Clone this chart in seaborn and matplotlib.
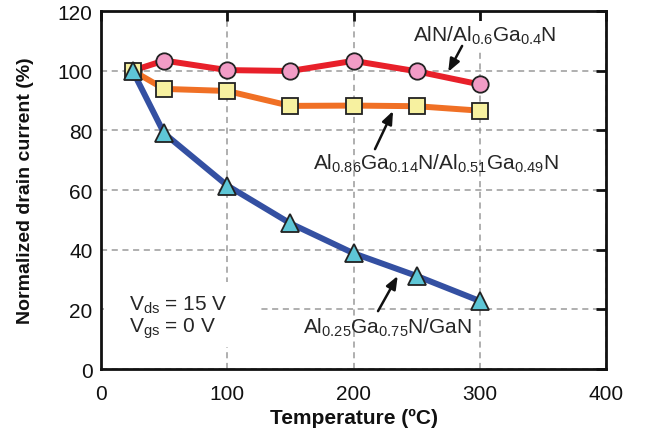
import matplotlib
matplotlib.use("Agg")
import matplotlib.pyplot as plt
from matplotlib.patches import Rectangle
import seaborn as sns
import pandas as pd

temps = [25, 50, 100, 150, 200, 250, 300]
aln_vals = [100, 103.4, 100.2, 99.9, 103.3, 99.8, 95.4]
al86_vals = [100, 93.9, 93.2, 88.2, 88.3, 88.1, 86.6]
al25_vals = [100, 79.0, 61.5, 48.8, 38.8, 31.2, 22.8]

x_ticks = [0, 100, 200, 300, 400]
y_ticks = [0, 20, 40, 60, 80, 100, 120]

label_aln = r"AlN/Al$_{0.6}$Ga$_{0.4}$N"
label_al86 = r"Al$_{0.86}$Ga$_{0.14}$N/Al$_{0.51}$Ga$_{0.49}$N"
label_al25 = r"Al$_{0.25}$Ga$_{0.75}$N/GaN"
x_label = "Temperature (ºC)"
y_label = "Normalized drain current (%)"
cond_text = "V$_{\\mathrm{ds}}$ = 15 V\nV$_{\\mathrm{gs}}$ = 0 V"

sns.set_theme(style="white")
plt.rcParams["font.family"] = ["Liberation Sans", "DejaVu Sans"]
plt.rcParams["mathtext.fontset"] = "custom"
plt.rcParams["mathtext.rm"] = "Liberation Sans"
plt.rcParams["mathtext.it"] = "Liberation Sans"
plt.rcParams["mathtext.bf"] = "Liberation Sans:bold"

df = pd.DataFrame({"T": temps, "aln": aln_vals, "al86": al86_vals, "al25": al25_vals})

fig = plt.figure(figsize=(6.45, 4.31), dpi=100)
ax = fig.add_axes([0.1566, 0.1415, 0.783, 0.8306])

ax.set_xlim(0, 400)
ax.set_ylim(0, 120)
ax.set_xticks(x_ticks)
ax.set_yticks(y_ticks)
ax.grid(True, color="#9a9a9a", linestyle=(0, (4, 3)), linewidth=1.1, zorder=0)
ax.set_axisbelow(True)

# white patch behind the bias-condition text (interrupts grid)
ax.add_patch(Rectangle((2, 7.4), 121.5, 21.8, facecolor="white", edgecolor="none", zorder=1.5))

series = [
    ("aln", "#e8202a", "o", "#f29cc6", 11.8),
    ("al86", "#f07025", "s", "#f7f1a0", 11.3),
    ("al25", "#3450a2", "^", "#5ec6d6", 13.5),
]
for i, (col, lc, mk, fc, ms) in enumerate(series):
    sns.lineplot(data=df, x="T", y=col, ax=ax, color=lc, linewidth=4.3,
                 marker=mk, markersize=ms, markerfacecolor=fc,
                 markeredgecolor="#222222", markeredgewidth=1.3, zorder=3 + i)

ax.tick_params(axis="both", which="major", direction="in", length=7, width=2,
               top=True, right=True, labelsize=15, pad=6, color="#111111",
               labelcolor="#111111")
ax.tick_params(axis="x", pad=11)
for s in ax.spines.values():
    s.set_linewidth(2)
    s.set_color("#111111")
    s.set_visible(True)

ax.set_xlabel(x_label, fontsize=15, fontweight="bold", labelpad=3, color="#111111")
ax.set_ylabel(y_label, fontsize=14, fontweight="bold", labelpad=17, color="#111111")

arrow = dict(arrowstyle="-|>,head_length=0.55,head_width=0.22", color="#111111",
             lw=1.8, mutation_scale=14, shrinkA=0, shrinkB=0)

ax.text(304, 112, label_aln, fontsize=15, ha="center", va="center",
        bbox=dict(facecolor="white", edgecolor="none", pad=2), zorder=6)
ax.annotate("", xy=(275, 99.6), xytext=(286, 108.3), arrowprops=arrow, zorder=7)

ax.text(265, 69.1, label_al86, fontsize=15, ha="center", va="center", zorder=6)
ax.annotate("", xy=(231.3, 86.5), xytext=(217, 73.7), arrowprops=arrow, zorder=7)

ax.text(227, 14.1, label_al25, fontsize=15, ha="center", va="center", zorder=6)
ax.annotate("", xy=(235, 31.2), xytext=(219.4, 19.4), arrowprops=arrow, zorder=7)

ax.text(22.5, 17.6, cond_text, fontsize=15, ha="left", va="center", linespacing=1.05, zorder=6)

fig.savefig("out.png", dpi=100)
